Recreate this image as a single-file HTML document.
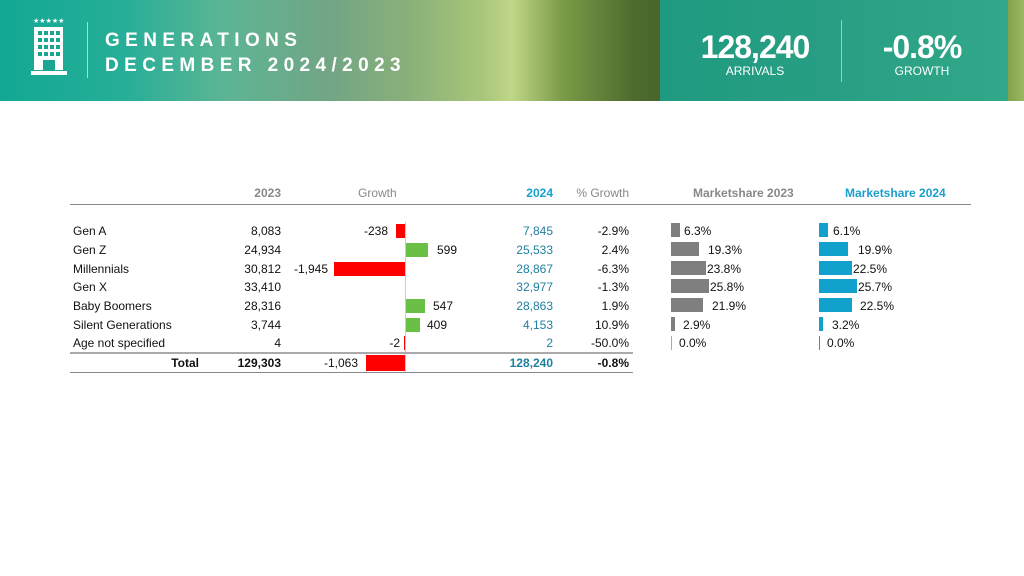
<!DOCTYPE html>
<html><head><meta charset="utf-8"><style>
*{margin:0;padding:0;box-sizing:border-box}
body{width:1024px;height:576px;background:#fff;position:relative;overflow:hidden;font-family:"Liberation Sans",sans-serif;}
.a{position:absolute;white-space:nowrap}
#hdr{position:absolute;left:0;top:0;width:1024px;height:101px;
background:linear-gradient(90deg,#12a893 0%,#26ae98 12%,#5cb594 22%,#72a585 32%,#8ab07a 40%,#a8c67a 47%,#c0d688 50%,#7a9a48 55%,#4e6a2c 62%,#3d5a28 70%,#3f6a35 75%,#4b8040 90%,#6a8f38 97%,#9ab860 100%);}
#box{position:absolute;left:660px;top:0;width:348px;height:101px;background:linear-gradient(90deg,#1f9a80,#2aa084 60%,#32a88a);}
.t{font-size:12px;color:#111}
.r{text-align:right}
.blue{color:#1f7fa0}
.bar{position:absolute;height:14px}
</style></head><body>
<div id="hdr"></div>
<div id="box"></div>
<!-- icon -->
<div class="a" style="left:33px;top:17px;color:#fff;font-size:7px;letter-spacing:0px">★★★★★</div>
<svg class="a" style="left:30px;top:26px" width="40" height="52">
<rect x="4" y="1" width="29" height="43" fill="#fff"/>
<g fill="#1aa592">
<rect x="8" y="5" width="4" height="4"/><rect x="14" y="5" width="4" height="4"/><rect x="20" y="5" width="4" height="4"/><rect x="26" y="5" width="4" height="4"/>
<rect x="8" y="12" width="4" height="4"/><rect x="14" y="12" width="4" height="4"/><rect x="20" y="12" width="4" height="4"/><rect x="26" y="12" width="4" height="4"/>
<rect x="8" y="19" width="4" height="4"/><rect x="14" y="19" width="4" height="4"/><rect x="20" y="19" width="4" height="4"/><rect x="26" y="19" width="4" height="4"/>
<rect x="8" y="26" width="4" height="4"/><rect x="14" y="26" width="4" height="4"/><rect x="20" y="26" width="4" height="4"/><rect x="26" y="26" width="4" height="4"/>
<rect x="13" y="34" width="12" height="10"/></g>
<rect x="1" y="45" width="36" height="4" fill="#fff"/>
</svg>
<div class="a" style="left:87px;top:22px;width:1px;height:56px;background:rgba(255,255,255,.6)"></div>
<div class="a" style="left:105px;top:30px;color:#fff;font-weight:bold;font-size:19px;letter-spacing:5.4px">GENERATIONS</div>
<div class="a" style="left:105px;top:55px;color:#fff;font-weight:bold;font-size:19px;letter-spacing:5.4px">DECEMBER 2024/2023</div>
<div class="a" style="left:690px;top:29px;width:130px;text-align:center;color:#fff;font-weight:bold;font-size:32px;letter-spacing:-1px">128,240</div>
<div class="a" style="left:690px;top:64px;width:130px;text-align:center;color:#fff;font-size:12px">ARRIVALS</div>
<div class="a" style="left:841px;top:20px;width:1px;height:62px;background:rgba(255,255,255,.5)"></div>
<div class="a" style="left:862px;top:29px;width:120px;text-align:center;color:#fff;font-weight:bold;font-size:32px;letter-spacing:-1px">-0.8%</div>
<div class="a" style="left:862px;top:64px;width:120px;text-align:center;color:#fff;font-size:12px">GROWTH</div>

<!-- table headers -->
<div class="a r" style="left:200px;top:186px;width:81px;font-size:12px;font-weight:bold;color:#888">2023</div>
<div class="a" style="left:358px;top:186px;font-size:12px;color:#888">Growth</div>
<div class="a r" style="left:480px;top:186px;width:73px;font-size:12px;font-weight:bold;color:#1ba0cc">2024</div>
<div class="a r" style="left:560px;top:186px;width:69px;font-size:12px;color:#888">% Growth</div>
<div class="a" style="left:693px;top:186px;font-size:12px;font-weight:bold;color:#888">Marketshare 2023</div>
<div class="a" style="left:845px;top:186px;font-size:12px;font-weight:bold;color:#1ba0cc">Marketshare 2024</div>
<div class="a" style="left:70px;top:204px;width:901px;height:1px;background:#888"></div>

<!-- growth axis -->
<div class="a" style="left:405px;top:222px;width:1px;height:150px;background:#ccc"></div>

<!-- rows -->
<div class="a t" style="left:73px;top:224px">Gen A</div>
<div class="a t" style="left:73px;top:243px">Gen Z</div>
<div class="a t" style="left:73px;top:262px">Millennials</div>
<div class="a t" style="left:73px;top:280px">Gen X</div>
<div class="a t" style="left:73px;top:299px">Baby Boomers</div>
<div class="a t" style="left:73px;top:318px">Silent Generations</div>
<div class="a t" style="left:73px;top:336px">Age not specified</div>

<div class="a t r" style="left:200px;top:224px;width:81px">8,083</div>
<div class="a t r" style="left:200px;top:243px;width:81px">24,934</div>
<div class="a t r" style="left:200px;top:262px;width:81px">30,812</div>
<div class="a t r" style="left:200px;top:280px;width:81px">33,410</div>
<div class="a t r" style="left:200px;top:299px;width:81px">28,316</div>
<div class="a t r" style="left:200px;top:318px;width:81px">3,744</div>
<div class="a t r" style="left:200px;top:336px;width:81px">4</div>

<div class="bar" style="left:396px;top:224px;width:9px;background:#f00"></div>
<div class="a t r" style="left:330px;top:224px;width:58px">-238</div>
<div class="bar" style="left:406px;top:243px;width:22px;background:#6abf45"></div>
<div class="a t" style="left:437px;top:243px">599</div>
<div class="bar" style="left:334px;top:262px;width:71px;background:#f00"></div>
<div class="a t r" style="left:280px;top:262px;width:48px">-1,945</div>
<div class="bar" style="left:406px;top:299px;width:19px;background:#6abf45"></div>
<div class="a t" style="left:433px;top:299px">547</div>
<div class="bar" style="left:406px;top:318px;width:14px;background:#6abf45"></div>
<div class="a t" style="left:427px;top:318px">409</div>
<div class="bar" style="left:404px;top:336px;width:1px;background:#f00"></div>
<div class="a t r" style="left:350px;top:336px;width:50px">-2</div>

<div class="a t r blue" style="left:480px;top:224px;width:73px">7,845</div>
<div class="a t r blue" style="left:480px;top:243px;width:73px">25,533</div>
<div class="a t r blue" style="left:480px;top:262px;width:73px">28,867</div>
<div class="a t r blue" style="left:480px;top:280px;width:73px">32,977</div>
<div class="a t r blue" style="left:480px;top:299px;width:73px">28,863</div>
<div class="a t r blue" style="left:480px;top:318px;width:73px">4,153</div>
<div class="a t r blue" style="left:480px;top:336px;width:73px">2</div>

<div class="a t r" style="left:560px;top:224px;width:69px">-2.9%</div>
<div class="a t r" style="left:560px;top:243px;width:69px">2.4%</div>
<div class="a t r" style="left:560px;top:262px;width:69px">-6.3%</div>
<div class="a t r" style="left:560px;top:280px;width:69px">-1.3%</div>
<div class="a t r" style="left:560px;top:299px;width:69px">1.9%</div>
<div class="a t r" style="left:560px;top:318px;width:69px">10.9%</div>
<div class="a t r" style="left:560px;top:336px;width:69px">-50.0%</div>

<!-- total -->
<div class="a" style="left:70px;top:352px;width:563px;height:2px;background:#aaa"></div>
<div class="a" style="left:70px;top:372px;width:563px;height:1px;background:#888"></div>
<div class="a t r" style="left:100px;top:356px;width:99px;font-weight:bold">Total</div>
<div class="a t r" style="left:200px;top:356px;width:81px;font-weight:bold">129,303</div>
<div class="bar" style="left:366px;top:355px;width:39px;height:16px;background:#f00"></div>
<div class="a t r" style="left:300px;top:356px;width:58px">-1,063</div>
<div class="a t r" style="left:480px;top:356px;width:73px;font-weight:bold;color:#1f7fa0">128,240</div>
<div class="a t r" style="left:560px;top:356px;width:69px;font-weight:bold">-0.8%</div>

<!-- marketshare 2023 -->
<div class="bar" style="left:671px;top:223px;width:9px;background:#7f7f7f"></div><div class="a t" style="left:684px;top:224px">6.3%</div>
<div class="bar" style="left:671px;top:242px;width:28px;background:#7f7f7f"></div><div class="a t" style="left:708px;top:243px">19.3%</div>
<div class="bar" style="left:671px;top:261px;width:35px;background:#7f7f7f"></div><div class="a t" style="left:707px;top:262px">23.8%</div>
<div class="bar" style="left:671px;top:279px;width:38px;background:#7f7f7f"></div><div class="a t" style="left:710px;top:280px">25.8%</div>
<div class="bar" style="left:671px;top:298px;width:32px;background:#7f7f7f"></div><div class="a t" style="left:712px;top:299px">21.9%</div>
<div class="bar" style="left:671px;top:317px;width:4px;background:#7f7f7f"></div><div class="a t" style="left:683px;top:318px">2.9%</div>
<div class="bar" style="left:671px;top:336px;width:1px;background:#aaa"></div><div class="a t" style="left:679px;top:336px">0.0%</div>

<!-- marketshare 2024 -->
<div class="bar" style="left:819px;top:223px;width:9px;background:#12a0cc"></div><div class="a t" style="left:833px;top:224px">6.1%</div>
<div class="bar" style="left:819px;top:242px;width:29px;background:#12a0cc"></div><div class="a t" style="left:858px;top:243px">19.9%</div>
<div class="bar" style="left:819px;top:261px;width:33px;background:#12a0cc"></div><div class="a t" style="left:853px;top:262px">22.5%</div>
<div class="bar" style="left:819px;top:279px;width:38px;background:#12a0cc"></div><div class="a t" style="left:858px;top:280px">25.7%</div>
<div class="bar" style="left:819px;top:298px;width:33px;background:#12a0cc"></div><div class="a t" style="left:860px;top:299px">22.5%</div>
<div class="bar" style="left:819px;top:317px;width:4px;background:#12a0cc"></div><div class="a t" style="left:832px;top:318px">3.2%</div>
<div class="bar" style="left:819px;top:336px;width:1px;background:#12a0cc"></div><div class="a t" style="left:827px;top:336px">0.0%</div>
</body></html>
